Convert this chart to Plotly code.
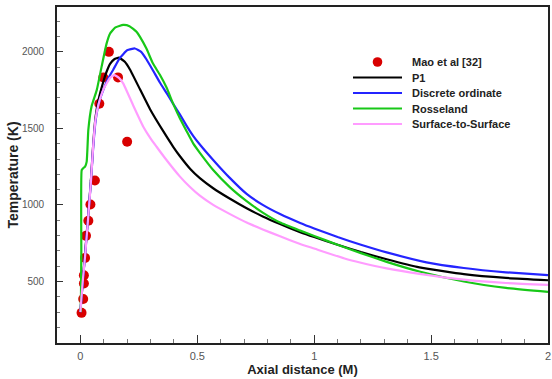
import plotly.graph_objects as go

# Experimental data (Mao et al [32])
mao_x = [0.005, 0.012, 0.015, 0.015, 0.02, 0.024, 0.034, 0.043, 0.062, 0.081, 0.098, 0.122, 0.161, 0.2]
mao_T = [295, 385, 487, 540, 654, 798, 897, 1003, 1160, 1661, 1832, 2000, 1833, 1413]

# P1 model
p1_x = [0.0, 0.005, 0.01, 0.02, 0.035, 0.045, 0.055, 0.065, 0.078, 0.098, 0.112, 0.127, 0.145, 0.165,
        0.19, 0.212, 0.255, 0.298, 0.355, 0.397, 0.426, 0.47, 0.511, 0.568, 0.64, 0.711, 0.78, 0.854,
        0.94, 1.0, 1.1, 1.2, 1.31, 1.45, 1.64, 1.82, 2.0]
p1_T = [300, 400, 500, 680, 960, 1160, 1400, 1575, 1690, 1805, 1870, 1922, 1952, 1962,
        1935, 1885, 1755, 1625, 1480, 1380, 1318, 1235, 1175, 1109, 1040, 978, 925, 875,
        822, 790, 740, 692, 645, 592, 548, 523, 508]

# Discrete ordinate model
do_x = [0.0, 0.005, 0.01, 0.02, 0.035, 0.045, 0.055, 0.065, 0.078, 0.1, 0.12, 0.141, 0.169, 0.2,
        0.233, 0.26, 0.283, 0.31, 0.34, 0.369, 0.397, 0.426, 0.455, 0.483, 0.511, 0.568, 0.64,
        0.711, 0.78, 0.854, 0.94, 1.0, 1.1, 1.2, 1.31, 1.48, 1.64, 1.82, 2.0]
do_T = [300, 400, 500, 670, 955, 1150, 1380, 1550, 1660, 1760, 1830, 1885, 1960, 2010,
        2022, 2000, 1950, 1880, 1800, 1730, 1660, 1590, 1515, 1450, 1395, 1294, 1175,
        1072, 1000, 940, 882, 846, 790, 740, 690, 625, 588, 560, 541]

# Rosseland model
ro_x = [0.002, 0.004, 0.0056, 0.012, 0.02, 0.027, 0.034, 0.048, 0.07, 0.091, 0.112, 0.127, 0.15,
        0.183, 0.21, 0.241, 0.255, 0.283, 0.31, 0.34, 0.369, 0.397, 0.426, 0.455, 0.483, 0.511,
        0.568, 0.64, 0.711, 0.78, 0.854, 0.94, 1.0, 1.1, 1.2, 1.31, 1.45, 1.64, 1.82, 2.0]
ro_T = [300, 700, 1228, 1240, 1250, 1283, 1490, 1645, 1750, 1905, 2054, 2120, 2160,
        2176, 2168, 2130, 2098, 2020, 1925, 1850, 1765, 1660, 1565, 1480, 1400, 1340,
        1228, 1115, 1025, 950, 885, 832, 797, 740, 685, 628, 565, 500, 458, 432]

# Surface-to-Surface model
s2s_x = [0.0, 0.005, 0.01, 0.02, 0.035, 0.045, 0.055, 0.065, 0.078, 0.1, 0.127, 0.145, 0.165, 0.183,
         0.226, 0.269, 0.3, 0.326, 0.36, 0.426, 0.47, 0.511, 0.568, 0.64, 0.711, 0.78, 0.854, 0.94,
         1.0, 1.13, 1.2, 1.31, 1.45, 1.64, 1.82, 2.0]
s2s_T = [300, 400, 500, 663, 950, 1150, 1390, 1560, 1660, 1760, 1830, 1848, 1830, 1794,
         1650, 1511, 1435, 1380, 1310, 1185, 1115, 1060, 1000, 940, 885, 840, 795, 745,
         715, 650, 622, 585, 550, 512, 490, 478]

x_ticks = [0, 0.5, 1, 1.5, 2]
x_tick_labels = ["0", "0.5", "1", "1.5", "2"]
y_ticks = [500, 1000, 1500, 2000]
y_tick_labels = ["500", "1000", "1500", "2000"]

names = ["Mao et al [32]", "P1", "Discrete ordinate", "Rosseland", "Surface-to-Surface"]
colors = ["#d80000", "#000000", "#2424ff", "#18c818", "#ff9cff"]

W, H = 552, 379
ML, MR, MT, MB = 57, 4, 7, 36

fig = go.Figure()
fig.add_trace(go.Scatter(x=mao_x, y=mao_T, mode="markers", name=names[0],
                         marker=dict(color=colors[0], size=10)))
series = [(p1_x, p1_T), (do_x, do_T), (ro_x, ro_T), (s2s_x, s2s_T)]
for (sx, sy), nm, col in zip(series, names[1:], colors[1:]):
    fig.add_trace(go.Scatter(x=sx, y=sy, mode="lines", name=nm,
                             line=dict(color=col, width=2.2, shape="spline", smoothing=0.4)))

# custom legend (pixel layout converted to paper coordinates)
pw, ph = W - ML - MR, H - MT - MB
def px(xp):
    return (xp - ML) / pw
def py(yp):
    return (H - MB - yp) / ph

row_y = [62, 77.5, 93, 108.5, 124]
line_x0, line_x1, text_x = 353, 402, 410
shapes = []
annotations = []
for i, (nm, col) in enumerate(zip(names, colors)):
    yy = row_y[i]
    if i == 0:
        r = 4.8
        cx = (line_x0 + line_x1) / 2
        shapes.append(dict(type="circle", xref="paper", yref="paper",
                           x0=px(cx - r), x1=px(cx + r), y0=py(yy + r), y1=py(yy - r),
                           fillcolor=col, line=dict(color=col, width=0)))
    else:
        shapes.append(dict(type="line", xref="paper", yref="paper",
                           x0=px(line_x0), x1=px(line_x1), y0=py(yy), y1=py(yy),
                           line=dict(color=col, width=2.2)))
    annotations.append(dict(xref="paper", yref="paper", x=px(text_x), y=py(yy),
                            xanchor="left", yanchor="middle", showarrow=False,
                            text="<b>" + nm + "</b>",
                            font=dict(family="Arial, Liberation Sans", size=11, color="#222222")))

axis_common = dict(showgrid=False, zeroline=False, showline=True, linecolor="#222222",
                   linewidth=1.6, mirror=True, ticks="inside", tickcolor="#333333",
                   automargin=False)

fig.update_layout(
    width=W, height=H,
    margin=dict(l=ML, r=MR, t=MT, b=MB),
    paper_bgcolor="white", plot_bgcolor="white",
    showlegend=False,
    shapes=shapes,
    annotations=annotations,
    xaxis=dict(range=[-0.1, 2.0], tickvals=x_ticks, ticktext=x_tick_labels, ticklen=8,
               ticklabelstandoff=2,
               tickfont=dict(family="Arial, Liberation Sans", size=11, color="#555555"),
               minor=dict(dtick=0.1, ticks="inside", ticklen=4, tickcolor="#777777"),
               title=dict(text="<b>Axial distance (M)</b>", standoff=0,
                          font=dict(family="Arial, Liberation Sans", size=13, color="#222222")),
               **axis_common),
    yaxis=dict(range=[98, 2293], tickvals=y_ticks, ticktext=y_tick_labels, ticklen=6,
               ticklabelstandoff=9,
               tickfont=dict(family="Arial, Liberation Sans", size=10, color="#555555"),
               minor=dict(dtick=100, ticks="inside", ticklen=3, tickcolor="#777777"),
               title=dict(text="<b>Temperature (K)</b>", standoff=0,
                          font=dict(family="Arial, Liberation Sans", size=14, color="#222222")),
               **axis_common),
)

fig.write_html("out.html", config={"displayModeBar": False},
               post_script="document.body.style.margin='0';")
